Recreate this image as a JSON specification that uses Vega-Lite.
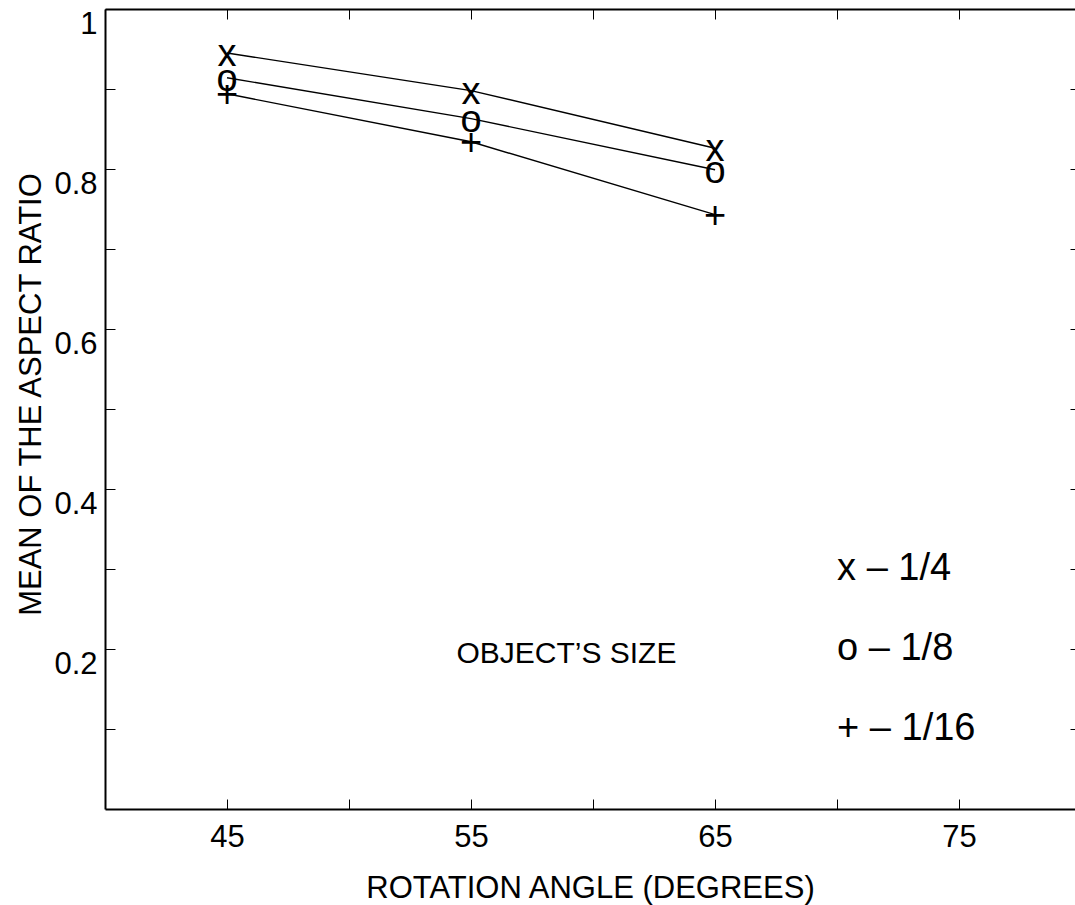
{
  "$schema": "https://vega.github.io/schema/vega-lite/v6.json",
  "autosize": {"type": "none"},
  "width": 970,
  "height": 800,
  "padding": {"left": 105, "top": 9, "right": 0, "bottom": 96},
  "background": "white",
  "config": {
    "view": {"stroke": null},
    "font": "Liberation Sans",
    "axis": {"grid": false, "domainColor": "black", "tickColor": "black", "labelColor": "black", "titleColor": "black", "labelFont": "Liberation Sans", "titleFont": "Liberation Sans", "labelFontSize": 31, "titleFontSize": 31, "titleFontWeight": "normal"}
  },
  "datasets": {
    "series": [
      {"angle": 45, "ratio": 0.945, "size": "1/4", "sym": "x"},
      {"angle": 55, "ratio": 0.898, "size": "1/4", "sym": "x"},
      {"angle": 65, "ratio": 0.826, "size": "1/4", "sym": "x"},
      {"angle": 45, "ratio": 0.914, "size": "1/8", "sym": "o"},
      {"angle": 55, "ratio": 0.863, "size": "1/8", "sym": "o"},
      {"angle": 65, "ratio": 0.799, "size": "1/8", "sym": "o"},
      {"angle": 45, "ratio": 0.894, "size": "1/16", "sym": "+"},
      {"angle": 55, "ratio": 0.834, "size": "1/16", "sym": "+"},
      {"angle": 65, "ratio": 0.743, "size": "1/16", "sym": "+"}
    ],
    "legend": [
      {"label": "x – 1/4", "angle": 70, "ratio": 0.3},
      {"label": "o – 1/8", "angle": 70, "ratio": 0.2},
      {"label": "+ – 1/16", "angle": 70, "ratio": 0.1}
    ],
    "note": [
      {"label": "OBJECT’S SIZE", "angle": 54.4, "ratio": 0.194}
    ]
  },
  "resolve": {"axis": {"x": "independent", "y": "independent"}},
  "layer": [
    {
      "data": {"name": "series"},
      "mark": {"type": "line", "color": "black", "strokeWidth": 1.4},
      "encoding": {
        "x": {"field": "angle", "type": "quantitative",
          "scale": {"domain": [40, 79.75], "nice": false, "zero": false},
          "axis": {"orient": "bottom", "title": "ROTATION ANGLE (DEGREES)", "values": [45, 50, 55, 60, 65, 70, 75],
            "labelExpr": "datum.value % 10 == 5 ? datum.label : ''",
            "tickSize": -10, "tickWidth": 1, "domainWidth": 2, "labelPadding": 23, "labelBaseline": "top",
            "titleX": 485, "titleY": 88, "titleBaseline": "alphabetic", "titleAnchor": "middle"}},
        "y": {"field": "ratio", "type": "quantitative",
          "scale": {"domain": [0, 1], "nice": false, "zero": false},
          "axis": {"orient": "left", "title": "MEAN OF THE ASPECT RATIO", "values": [0.1, 0.2, 0.3, 0.4, 0.5, 0.6, 0.7, 0.8, 0.9, 1],
            "format": "~g",
            "labelExpr": "round(datum.value * 10) % 2 == 0 ? datum.label : ''",
            "tickSize": -10, "tickWidth": 1, "domainWidth": 2, "labelPadding": 18, "labelBaseline": "top", "labelAlign": "right",
            "titleAngle": -90, "titleX": -65, "titleY": 385, "titleBaseline": "alphabetic", "titleAnchor": "middle"}},
        "detail": {"field": "size"}
      }
    },
    {
      "data": {"name": "series"},
      "mark": {"type": "text", "color": "black", "fontSize": 38, "font": "Liberation Sans", "align": "center", "baseline": "middle", "dy": 2},
      "encoding": {
        "x": {"field": "angle", "type": "quantitative",
          "scale": {"domain": [40, 79.75], "nice": false, "zero": false},
          "axis": {"orient": "top", "title": null, "values": [45, 50, 55, 60, 65, 70, 75], "labels": false,
            "tickSize": -10, "tickWidth": 1, "domainWidth": 2}},
        "y": {"field": "ratio", "type": "quantitative",
          "scale": {"domain": [0, 1], "nice": false, "zero": false},
          "axis": {"orient": "right", "title": null, "values": [0.1, 0.2, 0.3, 0.4, 0.5, 0.6, 0.7, 0.8, 0.9], "labels": false,
            "tickSize": -5, "tickWidth": 1, "domain": false}},
        "text": {"field": "sym"}
      }
    },
    {
      "data": {"name": "legend"},
      "mark": {"type": "text", "color": "black", "fontSize": 38, "font": "Liberation Sans", "align": "left", "baseline": "middle"},
      "encoding": {
        "x": {"field": "angle", "type": "quantitative", "scale": {"domain": [40, 79.75], "nice": false, "zero": false}, "axis": null},
        "y": {"field": "ratio", "type": "quantitative", "scale": {"domain": [0, 1], "nice": false, "zero": false}, "axis": null},
        "text": {"field": "label"}
      }
    },
    {
      "data": {"name": "note"},
      "mark": {"type": "text", "color": "black", "fontSize": 30, "font": "Liberation Sans", "align": "left", "baseline": "middle"},
      "encoding": {
        "x": {"field": "angle", "type": "quantitative", "scale": {"domain": [40, 79.75], "nice": false, "zero": false}, "axis": null},
        "y": {"field": "ratio", "type": "quantitative", "scale": {"domain": [0, 1], "nice": false, "zero": false}, "axis": null},
        "text": {"field": "label"}
      }
    }
  ]
}
